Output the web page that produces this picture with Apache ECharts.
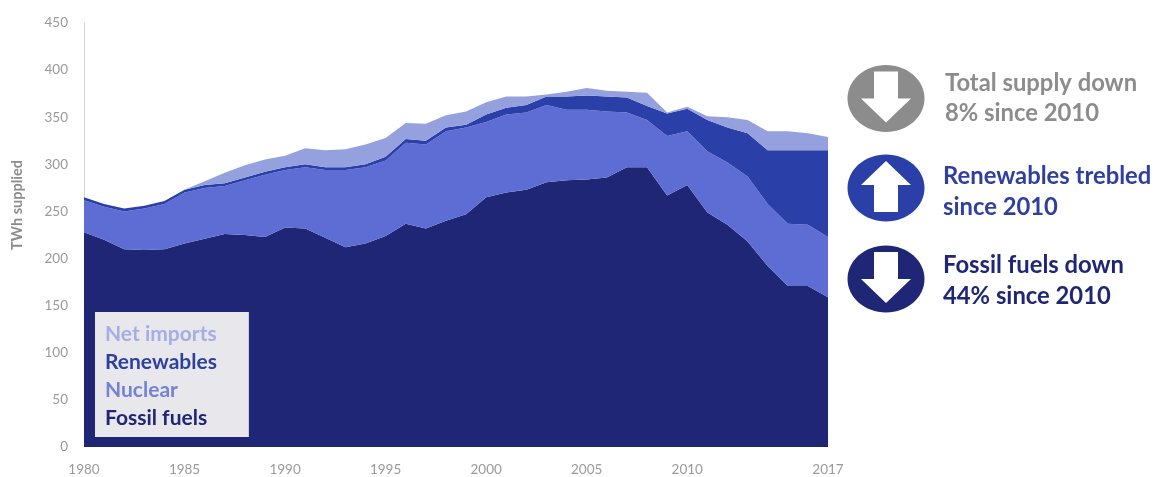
<!DOCTYPE html>
<html>
<head>
<meta charset="utf-8">
<style>html,body{margin:0;padding:0;background:#fff}#chart{width:1170px;height:477px}</style>
<script src="https://cdn.jsdelivr.net/npm/echarts@6/dist/echarts.min.js"></script>
</head>
<body>
<div id="chart"></div>
<script>
// UK electricity supply by source, TWh
const years = [];
for (let y = 1980; y <= 2017; y++) years.push(String(y));
const fossil = [228,220,210,209,210,216,221,226,225,223,233,232,222,212,216,224,237,232,240,247,265,270,273,281,283,284,286,297,297,267,278,249,236,218,192,171,171,159];
const nuclear = [34,35,40,44,48,54,54,51,58,66,61,65,72,82,81,80,86,89,95,92,80,83,82,82,75,74,70,58,50,63,57,65,66,69,66,66,65,64];
const renewables = [3,3,3,3,3,3,3,3,3,3,3,3,3,3,3,4,4,4,4,3,8,7,8,9,14,15,16,16,15,24,24,33,37,46,57,78,79,92];
const netImports = [0,0,0,0,0,0,4,11,13,13,12,17,18,19,21,20,17,18,13,14,13,12,9,2,5,8,6,6,14,1,2,4,11,14,20,20,18,14];
const tickYears = ['1980','1985','1990','1995','2000','2005','2010','2017'];

const seriesNames = ['Fossil fuels','Nuclear','Renewables','Net imports'];
const seriesColors = ['#1f2675','#5e6dd3','#2b3fa9','#95a0de'];
const seriesValues = [fossil,nuclear,renewables,netImports];
const legendColors = ['#1f2675','#7482d6','#2f3f9f','#a5aee3'];

const callouts = [
  {lines:['Total supply down','8% since 2010'], color:'#8c8c8c', dir:'down', cy:98.5, arrowShift:0, y0:83, y1:113, x:945},
  {lines:['Renewables trebled','since 2010'], color:'#2b3fa9', dir:'up', cy:188, arrowShift:-3, y0:176, y1:207, x:943},
  {lines:['Fossil fuels down','44% since 2010'], color:'#1f2675', dir:'down', cy:279, arrowShift:0, y0:265, y1:296, x:943}
];
const textColors = ['#8c8c8c','#2f3f9f','#1f2675'];

// Builds one circular badge with its arrow and two lines of text
function badge(c, i) {
  const s = c.dir === 'down' ? 1 : -1;
  const cx = 886;
  const arrow = [[-12,-27],[12,-27],[12,0],[25,0],[0,24],[-25,0],[-12,0]]
    .map(p => [cx + p[0], c.cy + c.arrowShift + s * p[1]]);
  const textStyle = {fontFamily:'Lato', fontWeight:'bold', fontSize:23.8, fill:textColors[i], textVerticalAlign:'middle'};
  return [
    {type:'ellipse', shape:{cx:cx, cy:c.cy, rx:38.5, ry:33.5}, style:{fill:c.color}},
    {type:'polygon', shape:{points:arrow}, style:{fill:'#fff'}},
    {type:'text', x:c.x, y:c.y0, style:Object.assign({text:c.lines[0]}, textStyle)},
    {type:'text', x:c.x, y:c.y1, style:Object.assign({text:c.lines[1]}, textStyle)}
  ];
}

const chart = echarts.init(document.getElementById('chart'), null, {renderer:'canvas'});
chart.setOption({
  animation:false,
  backgroundColor:'#fff',
  grid:{left:84, right:342, top:23, bottom:29},
  xAxis:{
    type:'category',
    data:years,
    boundaryGap:false,
    axisTick:{show:false},
    axisLine:{show:false},
    splitLine:{show:false},
    axisLabel:{
      interval:(i, v) => tickYears.includes(v),
      color:'#9a9a9a', fontFamily:'Lato', fontSize:13.5, margin:16, hideOverlap:false
    }
  },
  yAxis:{
    type:'value', min:0, max:450, interval:50,
    name:'TWh supplied',
    nameLocation:'middle',
    nameGap:59,
    nameTextStyle:{color:'#8c8c8c', fontFamily:'Lato', fontWeight:'bold', fontSize:14.5, padding:[0,0,0,60]},
    axisLine:{show:true, lineStyle:{color:'#d4d4d4', width:1}},
    axisTick:{show:false},
    splitLine:{show:false},
    axisLabel:{color:'#9a9a9a', fontFamily:'Lato', fontSize:13.5, margin:16}
  },
  legend:{
    left:95, top:312, orient:'vertical', align:'left',
    backgroundColor:'#e8e8ec',
    padding:[12,32,8,5],
    itemWidth:0, itemHeight:0, itemGap:7,
    icon:'none',
    data:seriesNames.slice().reverse().map(n => ({
      name:n,
      textStyle:{color:legendColors[seriesNames.indexOf(n)]}
    })),
    textStyle:{fontFamily:'Lato', fontWeight:'bold', fontSize:21, lineHeight:21, padding:[0,0,0,0]},
    selectedMode:false
  },
  series:seriesNames.map((n,i) => ({
    name:n, type:'line', stack:'supply', data:seriesValues[i],
    symbol:'none', showSymbol:false,
    lineStyle:{width:0},
    itemStyle:{color:seriesColors[i]},
    areaStyle:{color:seriesColors[i], opacity:1}
  })),
  graphic:callouts.flatMap(badge)
});
</script>
</body>
</html>
